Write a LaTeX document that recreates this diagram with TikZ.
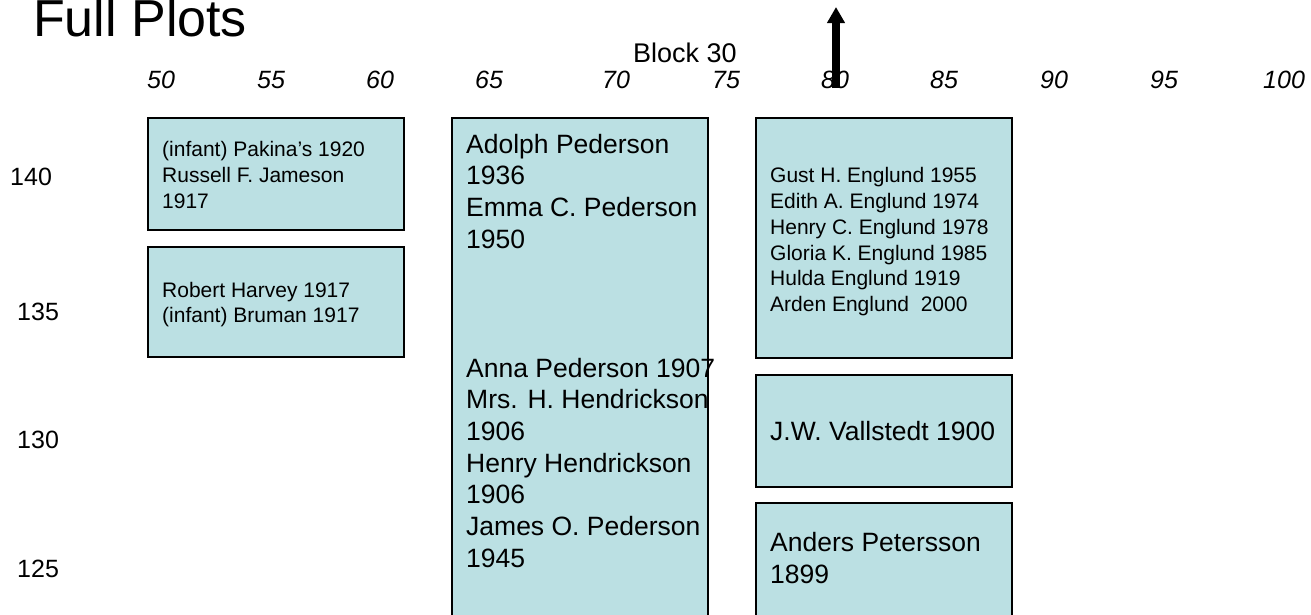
\documentclass[tikz,border=0pt]{standalone}
\usepackage{fontspec}
\setmainfont{Liberation Sans}
\usetikzlibrary{arrows.meta}
\definecolor{plotfill}{RGB}{187,224,227}
\begin{document}
\begin{tikzpicture}[x=1pt,y=-1pt,
  plotbox/.style={draw=black, line width=2pt, fill=plotfill, anchor=north west, inner sep=0pt, outer sep=0pt, minimum width=256pt},
  axislabel/.style={anchor=base west, inner sep=0pt, font=\fontsize{25}{30}\selectfont\itshape},
  rowlabel/.style={anchor=base west, inner sep=0pt, font=\fontsize{25}{30}\selectfont},
  smalltext/.style={anchor=base west, inner sep=0pt, align=left, font=\fontsize{21}{25.8}\selectfont},
  bigtext/.style={anchor=base west, inner sep=0pt, align=left, font=\fontsize{26.5}{31.7}\selectfont},
  northarrow/.style={line width=8pt, -{Triangle[width=17pt,length=16pt]}}
]
\useasboundingbox (0,0) rectangle (1311,614);
\clip (0,0) rectangle (1311,614);

% title
\node[anchor=base west, inner sep=0pt, font=\fontsize{52}{60}\selectfont] (title) at (33,36) {Full Plots};
\node[anchor=base west, inner sep=0pt, font=\fontsize{27}{32}\selectfont] (block) at (633,62) {Block 30};

% x axis labels
\node[axislabel] (x50) at (147,88) {50};
\node[axislabel] (x55) at (257,88) {55};
\node[axislabel] (x60) at (366,88) {60};
\node[axislabel] (x65) at (475,88) {65};
\node[axislabel] (x70) at (602,88) {70};
\node[axislabel] (x75) at (712,88) {75};
\node[axislabel] (x80) at (821,88) {80};
\node[axislabel] (x85) at (930,88) {85};
\node[axislabel] (x90) at (1040,88) {90};
\node[axislabel] (x95) at (1150,88) {95};
\node[axislabel] (x100) at (1263,88) {100};

% y axis labels
\node[rowlabel] (y140) at (10,185) {140};
\node[rowlabel] (y135) at (17,320) {135};
\node[rowlabel] (y130) at (17,448) {130};
\node[rowlabel] (y125) at (17,577) {125};

% north arrow
\coordinate (arrowfoot) at (836,88);
\coordinate (arrowtip) at (836,7);
\draw[northarrow] (arrowfoot) -- (arrowtip);

% plot boxes
\node[plotbox, minimum height=112pt] (boxA) at (148,118) {};
\node[plotbox, minimum height=110pt] (boxB) at (148,247) {};
\node[plotbox, minimum height=540pt] (boxC) at (452,118) {};
\node[plotbox, minimum height=240pt] (boxD) at (756,118) {};
\node[plotbox, minimum height=112pt] (boxE) at (756,375) {};
\node[plotbox, minimum height=200pt] (boxF) at (756,503) {};

% texts (anchor = baseline of the last line)
\node[smalltext] (tA) at (162,208.3) {(infant) Pakina’s 1920\\Russell F. Jameson\\1917};
\node[smalltext] (tB) at (162,322.8) {Robert Harvey 1917\\(infant) Bruman 1917};
\node[bigtext] (tC1) at (466,248.1) {Adolph Pederson\\1936\\Emma C. Pederson\\1950};
\node[bigtext] (tC2) at (466,567.2) {Anna Pederson 1907\\Mrs. H. Hendrickson\\1906\\Henry Hendrickson\\1906\\James O. Pederson\\1945};
\node[smalltext] (tD) at (770,311.7) {Gust H. Englund 1955\\Edith A. Englund 1974\\Henry C. Englund 1978\\Gloria K. Englund 1985\\Hulda Englund 1919\\Arden Englund\ \ 2000};
\node[bigtext] (tE) at (770,440) {J.W. Vallstedt 1900};
\node[bigtext] (tF) at (770,583) {Anders Petersson\\1899};
\end{tikzpicture}
\end{document}
